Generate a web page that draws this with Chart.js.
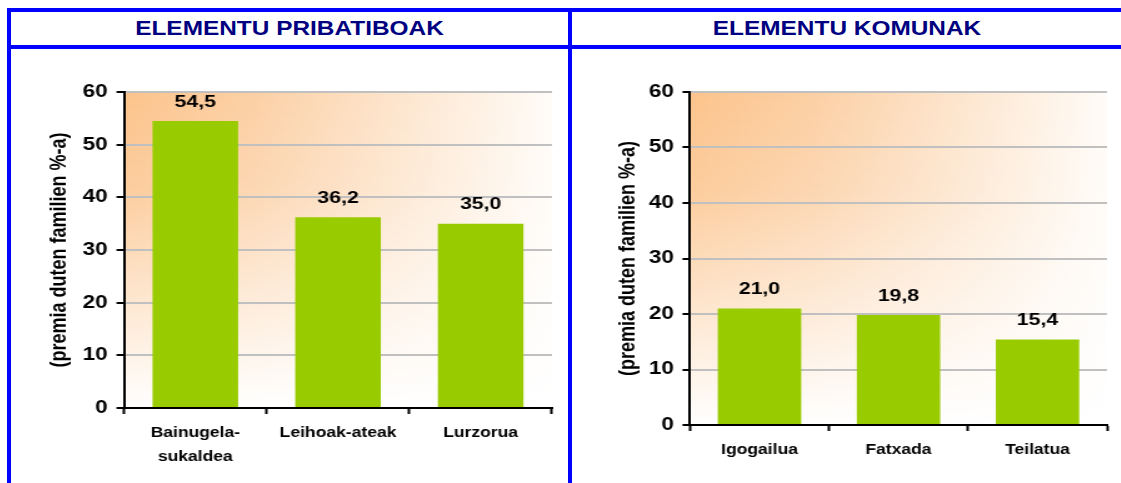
<!DOCTYPE html>
<html>
<head>
<meta charset="utf-8">
<script src="https://cdn.jsdelivr.net/npm/chart.js"></script>
<style>
  body { margin: 0; background: #fff; }
  #page { position: relative; width: 1121px; height: 483px; overflow: hidden; background: #fff; }
  .line { position: absolute; background: #0000ff; }
  .title { position: absolute; top: 12px; height: 33px; line-height: 33px; text-align: center;
           font-family: 'Liberation Sans', Arial, sans-serif; font-weight: bold; font-size: 20px; color: #000080; }
  .title span { display: inline-block; transform: scaleX(1.22); }
  .panel { position: absolute; top: 50px; height: 433px; }
  .inner { height: 433px; transform: scaleX(1.25); transform-origin: 0 0; }
</style>
</head>
<body>
<div id="page">
  <div class="line" style="left:7px;top:8px;width:1114px;height:4px"></div>
  <div class="line" style="left:7px;top:45px;width:1114px;height:4px"></div>
  <div class="line" style="left:7px;top:8px;width:4px;height:475px"></div>
  <div class="line" style="left:568px;top:8px;width:4px;height:475px"></div>

  <div class="title" style="left:11px;width:557px"><span>ELEMENTU PRIBATIBOAK</span></div>
  <div class="title" style="left:572px;width:549px"><span>ELEMENTU KOMUNAK</span></div>

  <div class="panel" style="left:12px"><div class="inner" style="width:444px"><canvas id="privChart"></canvas></div></div>
  <div class="panel" style="left:572px"><div class="inner" style="width:439px"><canvas id="commonChart"></canvas></div></div>
</div>
<script>
// data
const privLabels = [['Bainugela-', 'sukaldea'], 'Leihoak-ateak', 'Lurzorua'];
const privValues = [54.5, 36.2, 35.0];
const commonLabels = ['Igogailua', 'Fatxada', 'Teilatua'];
const commonValues = [21.0, 19.8, 15.4];
const yMin = 0, yMax = 60, yStep = 10;
const yTitle = '(premia duten familien %-a)';

Chart.defaults.font.family = "'Liberation Sans', Arial, sans-serif";
Chart.defaults.color = '#000';

// orange wash behind the plot area
const plotBg = {
    id: 'plotBg',
    beforeDraw(chart) {
        const {ctx, chartArea: a} = chart;
        ctx.save();
        let g = ctx.createLinearGradient(a.left, 0, a.right, 0);
        g.addColorStop(0, 'rgb(252,196,140)');
        g.addColorStop(0.3, 'rgb(252,208,165)');
        g.addColorStop(1, 'rgb(255,252,248)');
        ctx.fillStyle = g;
        ctx.fillRect(a.left, a.top, a.width, a.height);
        g = ctx.createLinearGradient(0, a.top, 0, a.bottom);
        g.addColorStop(0, 'rgba(255,255,255,0)');
        g.addColorStop(0.3, 'rgba(255,255,255,0.15)');
        g.addColorStop(1, 'rgba(255,255,255,1)');
        ctx.fillStyle = g;
        ctx.fillRect(a.left, a.top, a.width, a.height);
        ctx.restore();
    }
};

// value labels above the bars
const barLabels = {
    id: 'barLabels',
    afterDatasetsDraw(chart) {
        const ctx = chart.ctx;
        const meta = chart.getDatasetMeta(0);
        const vals = chart.data.datasets[0].data;
        ctx.save();
        ctx.font = "bold 17px 'Liberation Sans', Arial, sans-serif";
        ctx.fillStyle = '#000';
        ctx.textAlign = 'center';
        ctx.textBaseline = 'middle';
        meta.data.forEach((bar, i) => {
            ctx.fillText(vals[i].toFixed(1).replace('.', ','), bar.x, bar.y - 19);
        });
        ctx.restore();
    }
};

const makeChart = (id, labels, values, pad, yWidth, xHeight) => {
    return new Chart(document.getElementById(id), {
        type: 'bar',
        data: {
            labels: labels,
            datasets: [{
                data: values,
                backgroundColor: '#99cc00',
                categoryPercentage: 1,
                barPercentage: 0.6
            }]
        },
        options: {
            responsive: true,
            maintainAspectRatio: false,
            animation: false,
            layout: { padding: pad },
            plugins: { legend: { display: false }, tooltip: { enabled: false } },
            scales: {
                x: {
                    afterFit: (s) => { s.height = xHeight; },
                    border: { color: '#000', width: 2 },
                    grid: { drawOnChartArea: false, tickLength: 6, tickColor: '#000', tickWidth: 2 },
                    ticks: { font: { size: 14, weight: 'bold', lineHeight: 1.7 }, padding: 7, maxRotation: 0 }
                },
                y: {
                    min: yMin,
                    max: yMax,
                    afterFit: (s) => { s.width = yWidth; },
                    border: { color: '#000', width: 2 },
                    grid: {
                        color: (c) => c.tick && c.tick.value === 0 ? 'rgba(0,0,0,0)' : '#c0c0c0',
                        lineWidth: 2,
                        tickLength: 6,
                        tickColor: '#000',
                        tickWidth: 2
                    },
                    ticks: { stepSize: yStep, font: { size: 18, weight: 'bold' }, padding: 7 },
                    title: { display: true, text: yTitle, font: { size: 18, weight: 'bold' }, padding: 0 }
                }
            }
        },
        plugins: [plotBg, barLabels]
    });
};

makeChart('privChart', privLabels, privValues, { left: 27.6, top: 42, right: 12, bottom: 0 }, 62, 75);
makeChart('commonChart', commonLabels, commonValues, { left: 34, top: 42, right: 11, bottom: 0 }, 60.4, 58);
</script>
</body>
</html>
